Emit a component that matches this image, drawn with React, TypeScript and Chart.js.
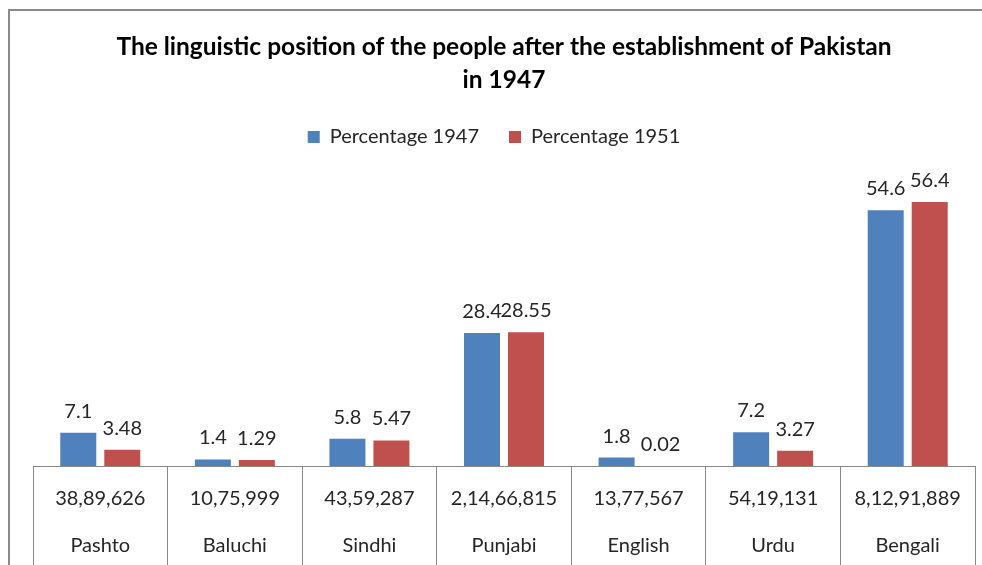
import React, { useEffect, useRef } from "react";
import { Chart, registerables } from "chart.js";

Chart.register(...registerables);

const languages = ["Pashto", "Baluchi", "Sindhi", "Punjabi", "English", "Urdu", "Bengali"];
const speakers = ["38,89,626", "10,75,999", "43,59,287", "2,14,66,815", "13,77,567", "54,19,131", "8,12,91,889"];
const percentage1947 = [7.1, 1.4, 5.8, 28.4, 1.8, 7.2, 54.6];
const percentage1951 = [3.48, 1.29, 5.47, 28.55, 0.02, 3.27, 56.4];
const titleLines = ["The linguistic position of the people after the establishment of Pakistan", "in 1947"];

const FONT = "Lato, 'Liberation Sans', sans-serif";

const valueLabels = {
  id: "valueLabels",
  afterDatasetsDraw(chart: any) {
    const ctx = chart.ctx;
    ctx.save();
    ctx.font = `20px ${FONT}`;
    ctx.fillStyle = "#262626";
    ctx.textAlign = "center";
    ctx.textBaseline = "alphabetic";
    chart.data.datasets.forEach((ds: any, i: number) => {
      const meta = chart.getDatasetMeta(i);
      meta.data.forEach((bar: any, j: number) => {
        ctx.fillText(String(ds.data[j]), bar.x, bar.y - 15);
      });
    });
    ctx.restore();
  },
};

const legendShift = {
  id: "legendShift",
  afterLayout(chart: any) {
    if (chart.legend) {
      chart.legend.left -= 10;
      chart.legend.right -= 10;
    }
  },
};

export default function App() {
  const ref = useRef<HTMLCanvasElement | null>(null);

  useEffect(() => {
    if (!ref.current) return;
    const chart = new Chart(ref.current, {
      type: "bar",
      data: {
        labels: languages.map((l, i) => [speakers[i], l]),
        datasets: [
          { label: "Percentage 1947", data: percentage1947, backgroundColor: "#4F81BD" },
          { label: "Percentage 1951", data: percentage1951, backgroundColor: "#C0504D" },
        ],
      },
      options: {
        animation: false,
        responsive: false,
        maintainAspectRatio: false,
        layout: { padding: { left: 33, right: 7, top: 0, bottom: 0 } },
        datasets: { bar: { barPercentage: 0.818, categoryPercentage: 0.654 } },
        plugins: {
          title: {
            display: true,
            text: titleLines,
            color: "#000",
            font: { family: FONT, size: 24.5, weight: "bold", lineHeight: "33px" },
            padding: { top: 30.5, bottom: 0.5 },
          },
          legend: {
            display: true,
            labels: {
              boxWidth: 12,
              boxHeight: 12,
              padding: 30,
              color: "#262626",
              font: { family: FONT, size: 20 },
            },
          },
          tooltip: { enabled: false },
        },
        scales: {
          y: { display: false, min: 0, max: 66 },
          x: {
            offset: true,
            grid: {
              display: true,
              drawOnChartArea: false,
              drawTicks: true,
              tickLength: 110,
              color: "#888",
              lineWidth: 1,
              offset: true,
            },
            border: { display: true, color: "#888", width: 1 },
            ticks: {
              padding: -101,
              maxRotation: 0,
              autoSkip: false,
              color: "#262626",
              font: { family: FONT, size: 20, lineHeight: "47px" },
            },
            afterFit: (scale: any) => {
              scale.height = 99;
            },
          },
        },
      },
      plugins: [valueLabels, legendShift],
    });
    return () => chart.destroy();
  }, []);

  return (
    <div style={{ position: "fixed", left: 0, top: 0, width: 982, height: 565, overflow: "hidden", background: "#fff" }}>
      <div
        style={{
          position: "absolute",
          left: 8,
          top: 9,
          width: 1100,
          height: 700,
          border: "2px solid #8a8a8a",
          boxSizing: "border-box",
        }}
      />
      <canvas ref={ref} width={982} height={565} style={{ position: "absolute", left: 0, top: 0 }} />
    </div>
  );
}
